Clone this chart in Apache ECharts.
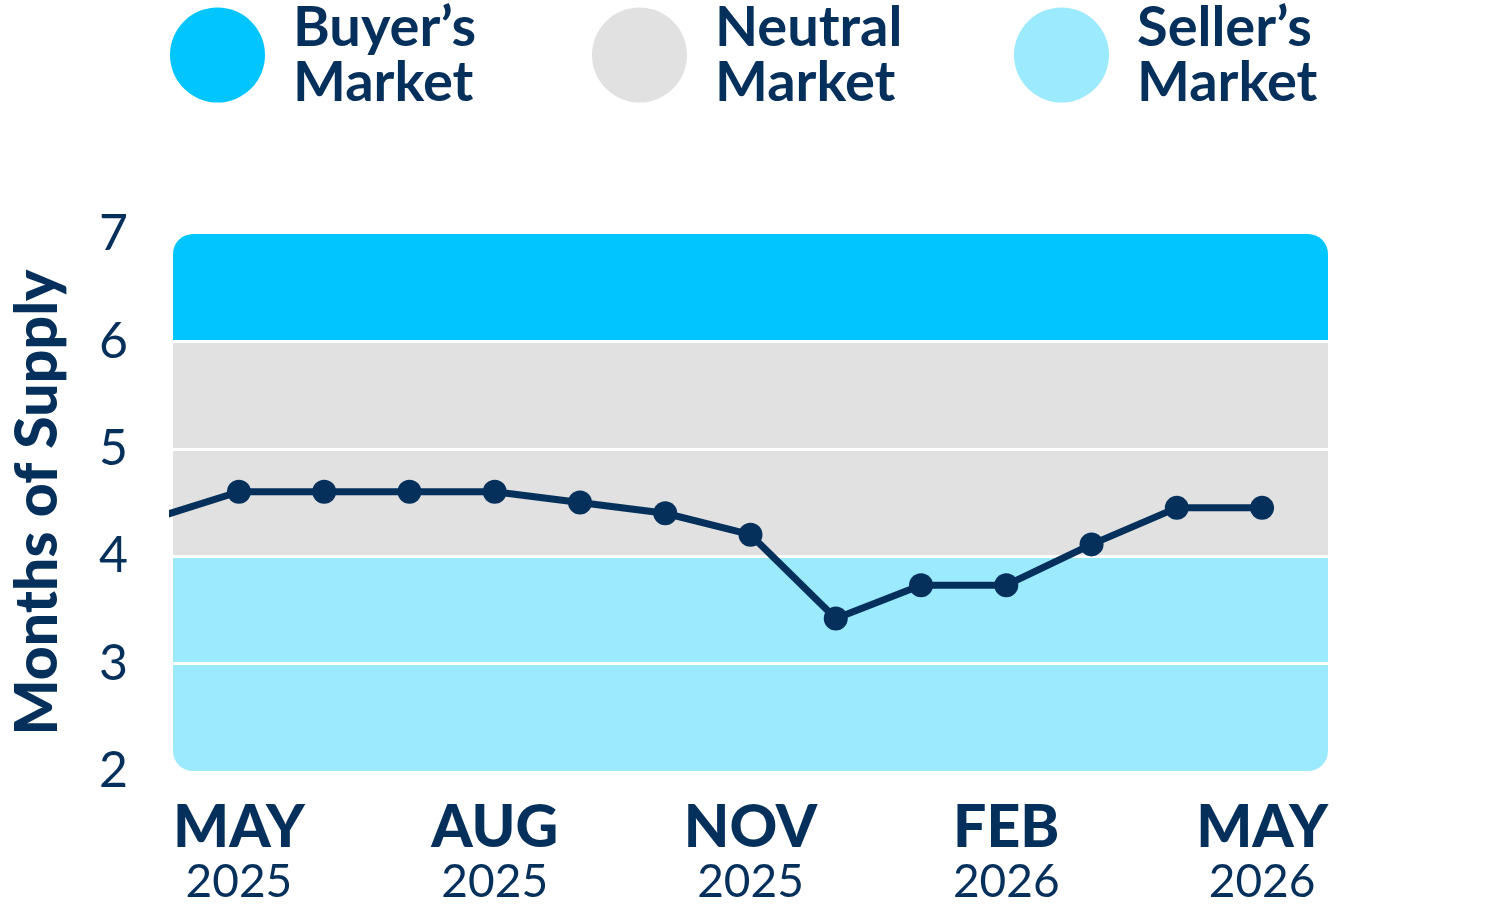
<!DOCTYPE html>
<html>
<head>
<meta charset="utf-8">
<script src="https://cdn.jsdelivr.net/npm/echarts@6/dist/echarts.min.js"></script>
<style>
html,body{margin:0;padding:0;background:#fff;}
#chart{width:1501px;height:907px;}
</style>
</head>
<body>
<div id="chart"></div>
<script>
// ---- data ----
const months = ['APR 2025','MAY 2025','JUN 2025','JUL 2025','AUG 2025','SEP 2025','OCT 2025','NOV 2025','DEC 2025','JAN 2026','FEB 2026','MAR 2026','APR 2026','MAY 2026'];
const supply = [4.35, 4.6, 4.6, 4.6, 4.6, 4.5, 4.4, 4.2, 3.42, 3.73, 3.73, 4.11, 4.45, 4.45];
const tickLabels = ['MAY 2025','AUG 2025','NOV 2025','FEB 2026','MAY 2026'];
const marketNames = ['Buyer’s Market','Neutral Market','Seller’s Market'];
const buyerBands = [[6, 7]];
const neutralBands = [[5, 6], [4, 5]];
const sellerBands = [[3, 4], [2, 3]];
const yTicks = [2, 3, 4, 5, 6, 7];

// ---- styles ----
const NAVY = '#05305C';
const COLORS = ['#00C5FF', '#E1E1E1', '#9CEAFD'];
const FONT = 'Lato';
const Y_MIN = yTicks[0], Y_MAX = yTicks[yTicks.length - 1];
const RADIUS = 20;

const chart = echarts.init(document.getElementById('chart'), null, {renderer: 'canvas'});

function bandRender(params, api) {
  const lo = api.value(0), hi = api.value(1);
  const cs = params.coordSys;
  const yTop = api.coord([months.length / 2, hi])[1];
  const yBot = api.coord([months.length / 2, lo])[1];
  const rt = hi === Y_MAX ? RADIUS : 0;
  const rb = lo === Y_MIN ? RADIUS : 0;
  return {
    type: 'rect',
    shape: {x: cs.x, y: yTop, width: cs.width, height: yBot - yTop, r: [rt, rt, rb, rb]},
    style: {fill: api.visual('color')}
  };
}

function bandSeries(name, bands, color) {
  return {
    type: 'custom', name: name, z: -1, silent: true,
    itemStyle: {color: color},
    renderItem: bandRender,
    encode: {x: -1, y: [0, 1]},
    data: bands
  };
}

const legendLefts = [170, 592, 1014];
const legends = marketNames.map((n, i) => ({
  data: [n], left: legendLefts[i], top: -3, padding: 0,
  orient: 'horizontal', icon: 'circle', itemWidth: 95, itemHeight: 95,
  selectedMode: false,
  formatter: name => name.replace(' ', '\n'),
  textStyle: {color: NAVY, fontFamily: FONT, fontWeight: 'bold', fontSize: 56, lineHeight: 55, padding: [6, 0, 0, 23]}
}));

const option = {
  animation: false,
  textStyle: {fontFamily: FONT},
  legend: legends,
  grid: {left: 172, right: 173, top: 234, bottom: 136, containLabel: false},
  xAxis: {
    type: 'value',
    min: 1 - 0.7734, max: 13.7734,
    axisLine: {show: false}, axisTick: {show: false}, splitLine: {show: false},
    axisLabel: {
      customValues: tickLabels.map(t => months.indexOf(t)),
      margin: 28,
      formatter: function (v) {
        const lab = months[Math.round(v)] || '';
        const parts = lab.split(' ');
        return '{m|' + parts[0] + '}\n{y|' + parts[1] + '}';
      },
      rich: {
        m: {fontFamily: FONT, fontWeight: 900, fontSize: 59, lineHeight: 58, color: NAVY, align: 'center'},
        y: {fontFamily: FONT, fontWeight: 'normal', fontSize: 46, lineHeight: 50, color: NAVY, align: 'center'}
      }
    }
  },
  yAxis: {
    type: 'value', min: Y_MIN, max: Y_MAX, interval: 1,
    name: 'Months of Supply', nameLocation: 'middle', nameGap: 106,
    nameTextStyle: {fontFamily: FONT, fontWeight: 900, fontSize: 59, color: NAVY},
    axisLine: {show: false}, axisTick: {show: false},
    axisLabel: {fontFamily: FONT, fontSize: 50, color: NAVY, margin: 45},
    splitLine: {show: true, showMinLine: false, showMaxLine: false, lineStyle: {color: '#ffffff', width: 3}}
  },
  series: [
    bandSeries(marketNames[0], buyerBands, COLORS[0]),
    bandSeries(marketNames[1], neutralBands, COLORS[1]),
    bandSeries(marketNames[2], sellerBands, COLORS[2]),
    {
      type: 'line', name: 'Months of Supply', z: 5, clip: true,
      symbol: 'circle', symbolSize: 24,
      lineStyle: {color: NAVY, width: 7},
      itemStyle: {color: NAVY},
      data: supply.map((v, i) => i === 0 ? {value: [i, v], symbol: 'none'} : [i, v])
    }
  ]
};
chart.setOption(option);
</script>
</body>
</html>
